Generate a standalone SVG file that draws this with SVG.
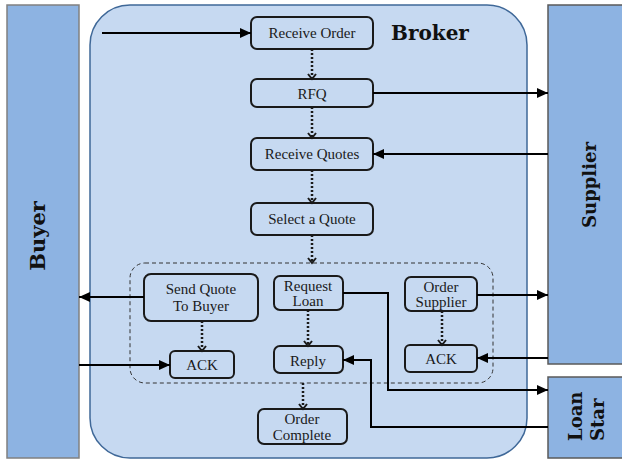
<svg xmlns="http://www.w3.org/2000/svg" width="622" height="460" viewBox="0 0 622 460">
<style>
.panel{fill:#8db3e2;stroke:#5a5a5a;stroke-width:1.5}
.box{fill:#c6d9f1;stroke:#1a1a1a;stroke-width:2}
.t{font-family:"Liberation Serif","DejaVu Serif",serif;font-size:15px;fill:#1a1a1a;text-anchor:middle}
.title{font-family:"DejaVu Serif","Liberation Serif",serif;font-weight:bold;fill:#111}
.solid{fill:none;stroke:#000;stroke-width:2;marker-end:url(#ah)}
.dot{fill:none;stroke:#1a1a1a;stroke-width:2.5;stroke-dasharray:2 2;marker-end:url(#ch)}
</style>
<defs>
<marker id="ah" markerUnits="userSpaceOnUse" markerWidth="12" markerHeight="10" refX="11" refY="5" orient="auto"><path d="M0,0 L11,5 L0,10 z" fill="#000"/></marker>
<marker id="ch" markerUnits="userSpaceOnUse" markerWidth="8" markerHeight="10" refX="6" refY="4.5" orient="auto"><path d="M1,0.5 L6,4.5 L1,8.5" fill="none" stroke="#1a1a1a" stroke-width="2"/></marker>
</defs>
<rect width="622" height="460" fill="#fff"/>
<g id="buyer"><rect class="panel" x="7" y="5" width="72" height="453" style="stroke:#808080"/><text class="title" font-size="21" text-anchor="middle" transform="translate(45,236) rotate(-90)">Buyer</text></g>
<g id="supplier"><rect class="panel" x="548" y="5" width="80" height="359"/><text class="title" font-size="18" text-anchor="middle" transform="translate(596,185) rotate(-90)">Supplier</text></g>
<g id="loanstar"><rect class="panel" x="548" y="377" width="80" height="81"/><text class="title" font-size="18" transform="translate(582,441) rotate(-90)">Loan</text><text class="title" font-size="18" transform="translate(604,441) rotate(-90)">Star</text></g>
<g id="broker"><rect x="90" y="5" width="437" height="453" rx="40" fill="#c6d9f1" stroke="#3f6898" stroke-width="1.5"/><text class="title" font-size="20" x="391" y="40">Broker</text></g>
<g id="group"><rect x="130" y="263" width="363" height="120" rx="15" fill="none" stroke="#333" stroke-width="1" stroke-dasharray="4 3"/></g>
<g id="receive-order"><rect class="box" x="251" y="17" width="122" height="32" rx="6"/><text class="t" x="312" y="38">Receive Order</text></g>
<g id="rfq"><rect class="box" x="251" y="79" width="122" height="28" rx="6"/><text class="t" x="312" y="98.5" font-size="16">RFQ</text></g>
<g id="receive-quotes"><rect class="box" x="251" y="138" width="122" height="32" rx="6"/><text class="t" x="312" y="159">Receive Quotes</text></g>
<g id="select-quote"><rect class="box" x="251" y="203" width="122" height="32" rx="6"/><text class="t" x="312" y="224">Select a Quote</text></g>
<g id="send-quote"><rect class="box" x="144" y="274" width="114" height="47" rx="7"/><text class="t" x="201" y="294">Send Quote</text><text class="t" x="201" y="311">To Buyer</text></g>
<g id="ack-buyer"><rect class="box" x="170" y="351" width="64" height="27" rx="5"/><text class="t" x="202" y="369.5">ACK</text></g>
<g id="request-loan"><rect class="box" x="274" y="276" width="69" height="34" rx="6"/><text class="t" x="308" y="291">Request</text><text class="t" x="308" y="306">Loan</text></g>
<g id="reply"><rect class="box" x="274" y="346" width="69" height="27" rx="6"/><text class="t" x="308" y="366" font-size="17">Reply</text></g>
<g id="order-supplier"><rect class="box" x="405" y="277" width="72" height="34" rx="6"/><text class="t" x="441" y="292">Order</text><text class="t" x="441" y="307">Supplier</text></g>
<g id="ack-supplier"><rect class="box" x="405" y="345" width="72" height="27" rx="5"/><text class="t" x="441" y="363.5">ACK</text></g>
<g id="order-complete"><rect class="box" x="258" y="409" width="89" height="35" rx="6"/><text class="t" x="302" y="424">Order</text><text class="t" x="302" y="440">Complete</text></g>
<g id="connectors">
<path class="solid" d="M102,33 H251"/>
<path class="solid" d="M373,93 H548"/>
<path class="solid" d="M548,154 H373"/>
<path class="dot" d="M312,49 V79"/>
<path class="dot" d="M312,107 V138"/>
<path class="dot" d="M312,170 V203"/>
<path class="dot" d="M312,235 V263"/>
<path class="solid" d="M144,297 H79"/>
<path class="solid" d="M79,365 H170"/>
<path class="dot" d="M202,321 V351"/>
<path class="dot" d="M308,310 V346"/>
<path class="dot" d="M442,311 V345"/>
<path class="dot" d="M303,383 V409"/>
<path class="solid" d="M343,293 H388 V390 H548"/>
<path class="solid" d="M548,427 H371 V360 H343"/>
<path class="solid" d="M477,295 H548"/>
<path class="solid" d="M548,358 H477"/>
</g>
</svg>
